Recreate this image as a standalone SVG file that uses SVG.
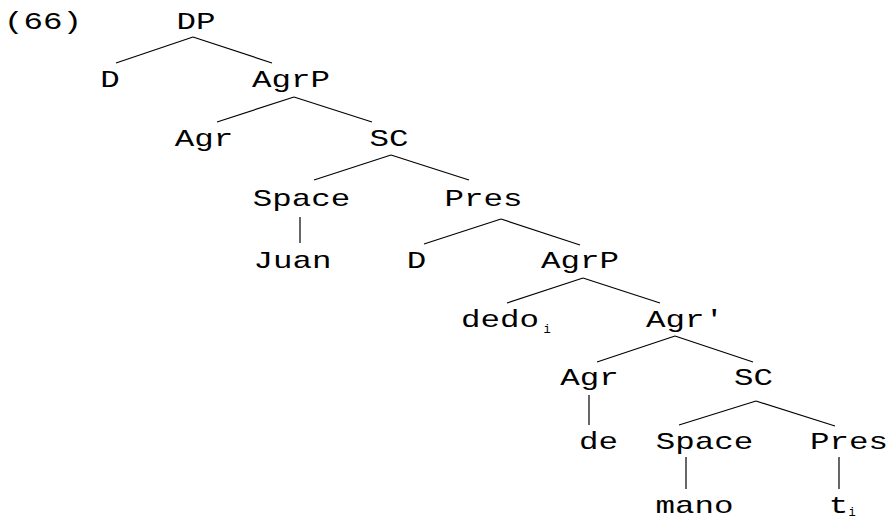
<svg xmlns="http://www.w3.org/2000/svg" width="887" height="521" viewBox="0 0 887 521">
<style>
  text { font-family: "Liberation Mono", "DejaVu Sans Mono", monospace; fill: #000; }
  .t { font-size: 24px; text-anchor: middle; }
  .s { font-size: 12px; text-anchor: middle; }
  .e line { stroke: #000; stroke-width: 1.2; }
</style>
<rect width="887" height="521" fill="#fff"/>
<g class="e" id="connectors">
  <line x1="193" y1="37" x2="116" y2="63"/>
  <line x1="193" y1="37" x2="272" y2="63"/>
  <line x1="294" y1="97" x2="217" y2="122"/>
  <line x1="294" y1="97" x2="372" y2="122"/>
  <line x1="391" y1="155" x2="314" y2="180"/>
  <line x1="391" y1="155" x2="469" y2="180"/>
  <line x1="300" y1="217" x2="300" y2="243"/>
  <line x1="501" y1="219" x2="424" y2="244"/>
  <line x1="501" y1="219" x2="580" y2="245"/>
  <line x1="583" y1="278" x2="507" y2="303"/>
  <line x1="583" y1="278" x2="660" y2="303"/>
  <line x1="675" y1="336" x2="597" y2="362"/>
  <line x1="675" y1="336" x2="753" y2="362"/>
  <line x1="589" y1="395" x2="589" y2="425"/>
  <line x1="756" y1="401" x2="679" y2="425"/>
  <line x1="756" y1="401" x2="835" y2="426"/>
  <line x1="686" y1="457" x2="686" y2="489"/>
  <line x1="839" y1="457" x2="839" y2="489"/>
</g>
<g id="label66"><text class="t" x="43" y="29" textLength="78" lengthAdjust="spacingAndGlyphs">(66)</text></g>
<g id="n-DP"><text class="t" x="196" y="29" textLength="39" lengthAdjust="spacingAndGlyphs">DP</text></g>
<g id="n-D1"><text class="t" x="110" y="87" textLength="19.5" lengthAdjust="spacingAndGlyphs">D</text></g>
<g id="n-AgrP1"><text class="t" x="291" y="87" textLength="78" lengthAdjust="spacingAndGlyphs">AgrP</text></g>
<g id="n-Agr1"><text class="t" x="204" y="146" textLength="58.5" lengthAdjust="spacingAndGlyphs">Agr</text></g>
<g id="n-SC1"><text class="t" x="389" y="146" textLength="39" lengthAdjust="spacingAndGlyphs">SC</text></g>
<g id="n-Space1"><text class="t" x="301.5" y="206" textLength="97.5" lengthAdjust="spacingAndGlyphs">Space</text></g>
<g id="n-Pres1"><text class="t" x="483.5" y="206" textLength="78" lengthAdjust="spacingAndGlyphs">Pres</text></g>
<g id="n-Juan"><text class="t" x="292.5" y="268" textLength="78" lengthAdjust="spacingAndGlyphs">Juan</text></g>
<g id="n-D2"><text class="t" x="416.5" y="268" textLength="19.5" lengthAdjust="spacingAndGlyphs">D</text></g>
<g id="n-AgrP2"><text class="t" x="580" y="268" textLength="78" lengthAdjust="spacingAndGlyphs">AgrP</text></g>
<g id="n-dedo"><text class="t" x="500" y="327" textLength="78" lengthAdjust="spacingAndGlyphs">dedo</text><text class="s" x="547" y="333">i</text></g>
<g id="n-Agrbar"><text class="t" x="685" y="327" textLength="78" lengthAdjust="spacingAndGlyphs">Agr'</text></g>
<g id="n-Agr2"><text class="t" x="589.5" y="385" textLength="58.5" lengthAdjust="spacingAndGlyphs">Agr</text></g>
<g id="n-SC2"><text class="t" x="753.5" y="385" textLength="39" lengthAdjust="spacingAndGlyphs">SC</text></g>
<g id="n-de"><text class="t" x="598.5" y="449" textLength="39" lengthAdjust="spacingAndGlyphs">de</text></g>
<g id="n-Space2"><text class="t" x="704.5" y="449" textLength="97.5" lengthAdjust="spacingAndGlyphs">Space</text></g>
<g id="n-Pres2"><text class="t" x="849" y="449" textLength="78" lengthAdjust="spacingAndGlyphs">Pres</text></g>
<g id="n-mano"><text class="t" x="694.5" y="513" textLength="78" lengthAdjust="spacingAndGlyphs">mano</text></g>
<g id="n-t"><text class="t" x="838.5" y="513" textLength="19.5" lengthAdjust="spacingAndGlyphs">t</text><text class="s" x="852" y="516">i</text></g>
</svg>
